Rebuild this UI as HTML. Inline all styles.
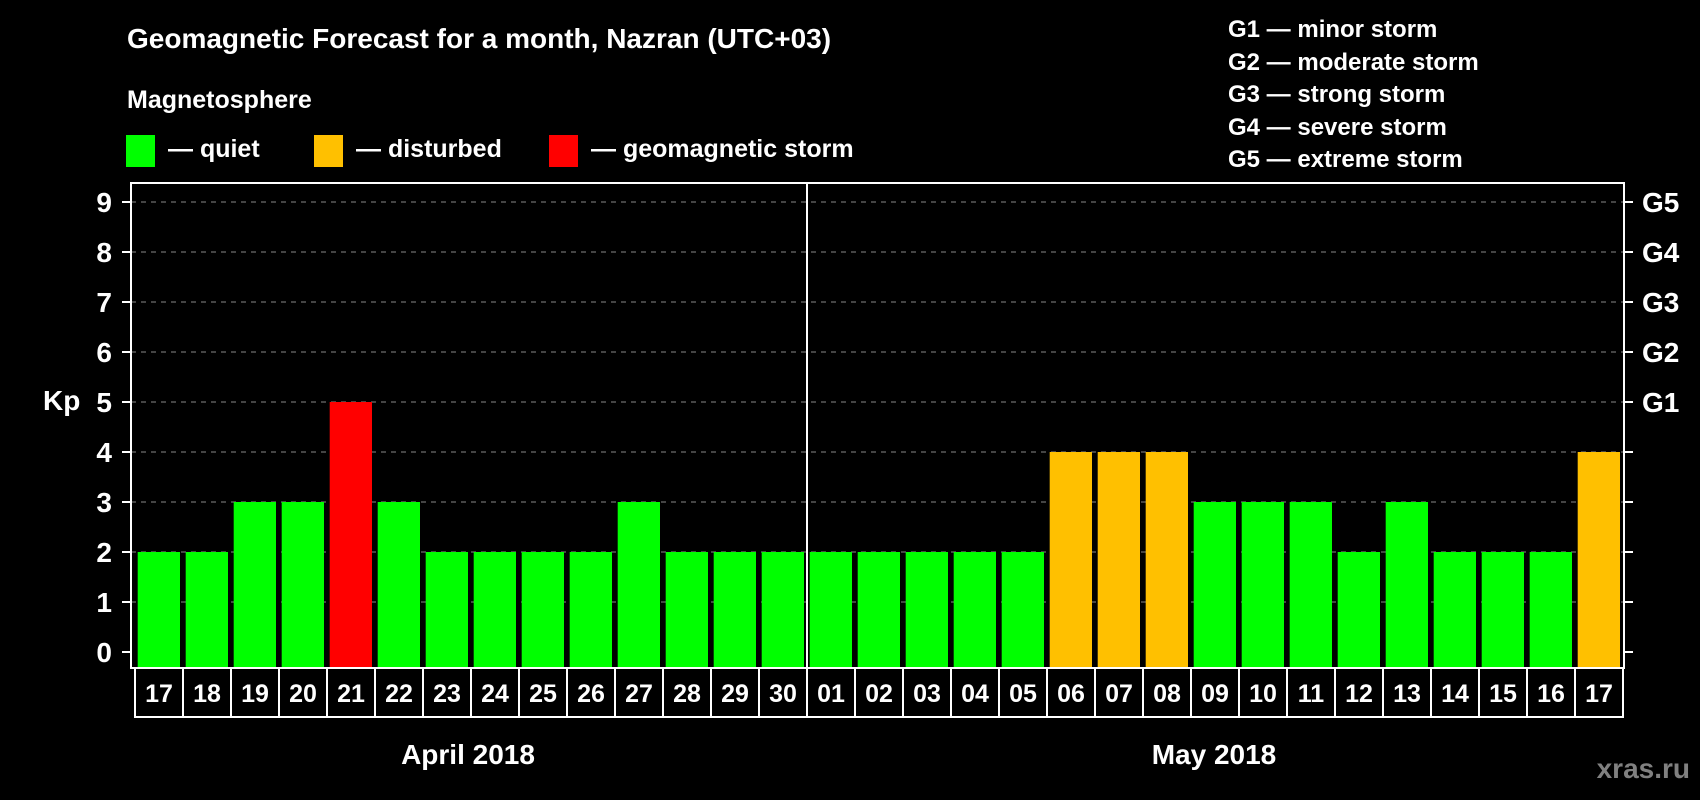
<!DOCTYPE html>
<html><head><meta charset="utf-8"><style>
html,body{margin:0;padding:0;background:#000;width:1700px;height:800px;overflow:hidden}
svg{display:block;font-family:"Liberation Sans",Arial,sans-serif;font-weight:bold}
</style></head><body>
<svg id="chart" width="1700" height="800" viewBox="0 0 1700 800">
<rect width="1700" height="800" fill="#000"/>
<text x="127" y="48" font-size="28" fill="#fff">Geomagnetic Forecast for a month, Nazran (UTC+03)</text>
<text x="127" y="108" font-size="25" fill="#fff">Magnetosphere</text>
<g><rect x="126" y="135" width="29" height="32" fill="#00ff00"/><text x="168" y="157" font-size="25" fill="#fff">— quiet</text></g>
<g><rect x="314" y="135" width="29" height="32" fill="#ffc000"/><text x="356" y="157" font-size="25" fill="#fff">— disturbed</text></g>
<g><rect x="549" y="135" width="29" height="32" fill="#ff0000"/><text x="591" y="157" font-size="25" fill="#fff">— geomagnetic storm</text></g>
<g font-size="24" fill="#fff">
<text x="1228" y="37">G1 — minor storm</text>
<text x="1228" y="70">G2 — moderate storm</text>
<text x="1228" y="102">G3 — strong storm</text>
<text x="1228" y="135">G4 — severe storm</text>
<text x="1228" y="167">G5 — extreme storm</text>
</g>
<text x="43" y="410" font-size="28" fill="#fff">Kp</text>
<g id="grid"></g><g id="bars"></g><g id="axes"></g>
<rect x="131" y="183" width="1493" height="485" fill="none" stroke="#fff" stroke-width="2"/>
<line x1="807" y1="183" x2="807" y2="668" stroke="#fff" stroke-width="2"/>
<g id="dates"></g>
<text x="468" y="764" font-size="28" fill="#fff" text-anchor="middle">April 2018</text>
<text x="1214" y="764" font-size="28" fill="#fff" text-anchor="middle">May 2018</text>
<text x="1690" y="778" font-size="28" fill="#808080" text-anchor="end">xras.ru</text>
</svg>
<script>
const days = ["17","18","19","20","21","22","23","24","25","26","27","28","29","30","01","02","03","04","05","06","07","08","09","10","11","12","13","14","15","16","17"];
const kpValues = [2,2,3,3,5,3,2,2,2,2,3,2,2,2,2,2,2,2,2,4,4,4,3,3,3,2,3,2,2,2,4];
const yTicks = [0,1,2,3,4,5,6,7,8,9];
const gLabels = ["","","","","","G1","G2","G3","G4","G5"];
const NS="http://www.w3.org/2000/svg";
const y0=652, unit=50, x0=135, pitch=48, barW=42.3, base=668;
const yS=v=>y0-v*unit, xS=i=>x0+i*pitch;
function mk(t,a,p){const e=document.createElementNS(NS,t);for(const k in a)e.setAttribute(k,a[k]);p.appendChild(e);return e;}
const grid=document.getElementById('grid'),bars=document.getElementById('bars'),axes=document.getElementById('axes'),dates=document.getElementById('dates');
yTicks.forEach((v,i)=>{
 if(v>0){const g=mk('line',{x1:131,x2:1624,y1:yS(v),y2:yS(v),stroke:'#888','stroke-width':1,'stroke-dasharray':'5,5'},grid);
 
 }
 const t1=mk('line',{x1:122,x2:131,y1:yS(v),y2:yS(v),stroke:'#fff','stroke-width':2},axes);
 
 
 const l=mk('text',{x:112,y:yS(v)+10,'font-size':28,fill:'#fff','text-anchor':'end'},axes);l.textContent=v;
 
 
 const t2=mk('line',{x1:1624,x2:1633,y1:yS(v),y2:yS(v),stroke:'#fff','stroke-width':2},axes);
 
 
 if(gLabels[i]){const gl=mk('text',{x:1642,y:yS(v)+10,'font-size':28,fill:'#fff'},axes);gl.textContent=gLabels[i];
 
 }
});
kpValues.forEach((v,i)=>{
 const c=v>=5?'#ff0000':(v>=4?'#ffc000':'#00ff00');
 const b=mk('rect',{x:xS(i)+2.7,y:yS(v),width:barW,height:base-yS(v),fill:c},bars);
 
 
});
days.forEach((d,i)=>{
 const r=mk('rect',{x:xS(i),y:668,width:pitch,height:49,fill:'none',stroke:'#fff','stroke-width':2},dates);
 
 
 const t=mk('text',{x:xS(i)+pitch/2,y:702,'font-size':25,fill:'#fff','text-anchor':'middle'},dates);t.textContent=d;
 
 
});
</script>
</body></html>
